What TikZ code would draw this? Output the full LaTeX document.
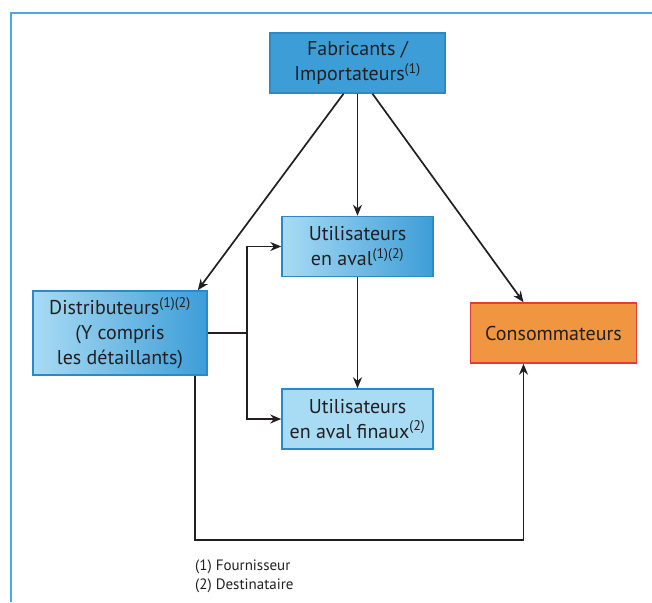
\documentclass[tikz,border=0pt]{standalone}
\usepackage{fontspec}
\setmainfont{PT Sans}
\usetikzlibrary{positioning,arrows.meta}
\definecolor{frameblue}{HTML}{45AAE0}
\definecolor{boxblue}{HTML}{3D9DD7}
\definecolor{boxedge}{HTML}{2A89C9}
\definecolor{paleblue}{HTML}{A8DBF4}
\definecolor{consfill}{HTML}{F09640}
\definecolor{consedge}{HTML}{E53B30}
\definecolor{linedark}{HTML}{231F20}
\begin{document}
\begin{tikzpicture}[x=1pt,y=-1pt,
			box/.style={draw=boxedge, line width=1.5pt, align=center, inner sep=0pt,
					font=\fontsize{20}{25}\selectfont, text=linedark},
			arr/.style={-{Stealth[length=11pt,width=9pt]}, line width=1.7pt, draw=linedark},
			link/.style={line width=1.7pt, draw=linedark}]
		\useasboundingbox (0,0) rectangle (652,602);
		\draw[frameblue, line width=1.8pt] (11,602) -- (11,13) -- (652,13);
		\node[box, fill=boxblue, minimum width=175pt, minimum height=60pt] (fab) at (357.5,63)
		{Fabricants /\\Importateurs\textsuperscript{(1)}};
		\node[box, left color=paleblue, right color=boxblue, minimum width=151pt, minimum height=60pt] (ual) at (357.5,246.5)
		{Utilisateurs\\en aval\textsuperscript{(1)(2)}};
		\node[box, left color=paleblue, right color=boxblue, minimum width=174pt, minimum height=84pt] (dist) at (120,333)
		{Distributeurs\textsuperscript{(1)(2)}\\(Y compris\\les détaillants)};
		\node[box, fill=paleblue, minimum width=151pt, minimum height=60pt] (ualf) at (357.5,419)
		{Utilisateurs\\en aval finaux\textsuperscript{(2)}};
		\node[box, fill=consfill, draw=consedge, minimum width=166pt, minimum height=60pt] (cons) at (553.5,333)
		{Consommateurs};
		\coordinate (br) at (247,333);
		\draw[arr] ([xshift=-14pt]fab.south) -- ([xshift=-10pt]dist.north east);
		\draw[arr] (fab.south) -- (ual.north);
		\draw[arr] ([xshift=15pt]fab.south) -- ([xshift=-30pt]cons.north);
		\draw[arr] (ual.south) -- (ualf.north);
		\draw[link] (dist.east) -- (br);
		\draw[arr] (br) |- (ual.west);
		\draw[arr] (br) |- (ualf.west);
		\draw[arr] ([xshift=75pt]dist.south) -- ++(0,164) -| ([xshift=-30pt]cons.south);
		\node[anchor=north west, align=left, inner sep=0pt, font=\fontsize{15}{19}\selectfont, text=linedark] (notes) at (195,560)
		{(1) Fournisseur\\(2) Destinataire};
	\end{tikzpicture}
\end{document}
